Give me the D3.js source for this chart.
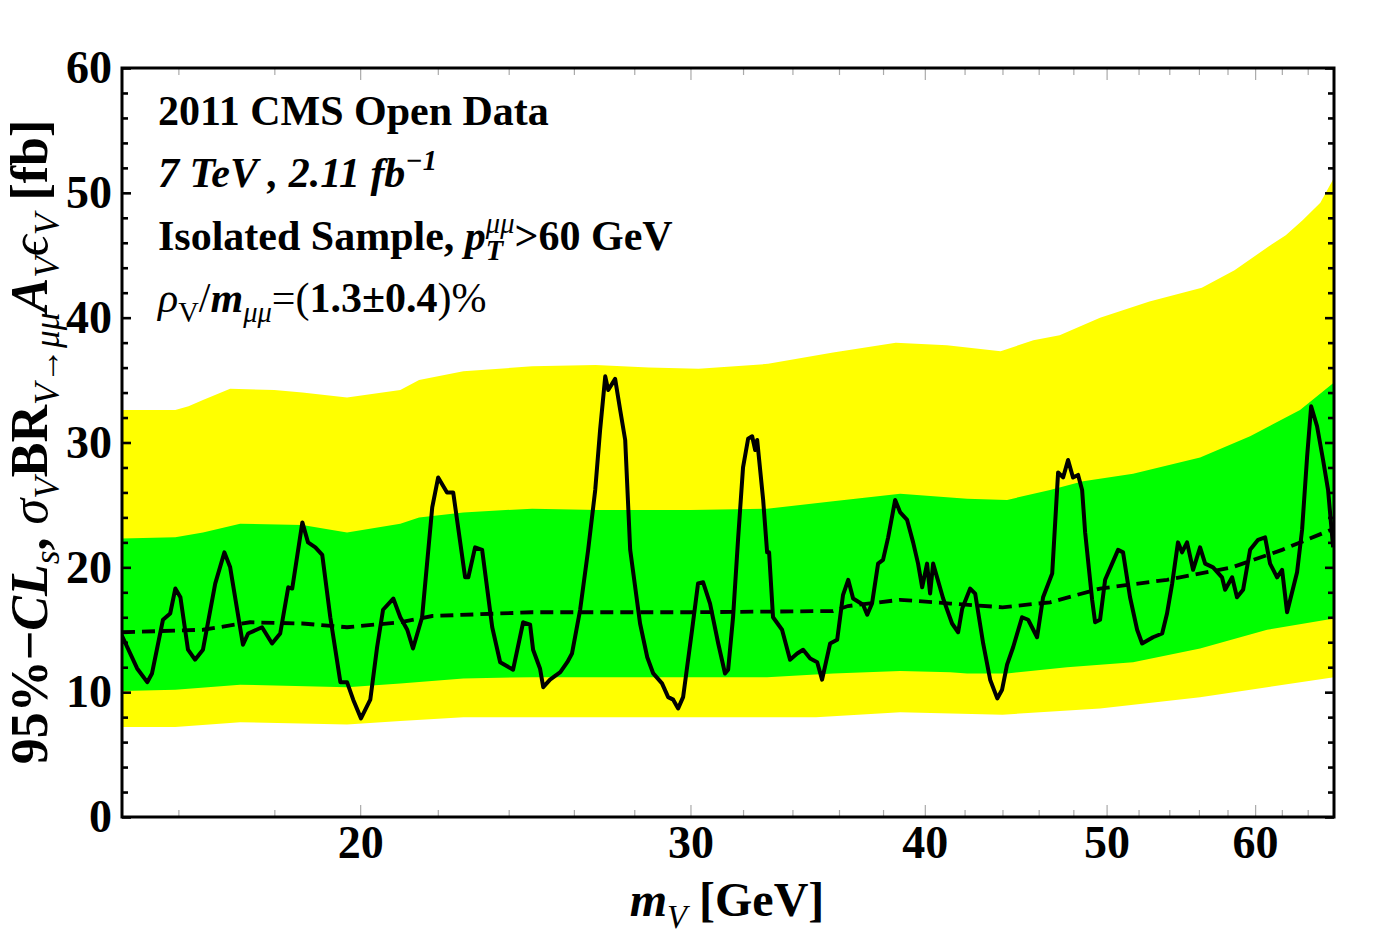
<!DOCTYPE html>
<html>
<head>
<meta charset="utf-8">
<script src="https://cdn.jsdelivr.net/npm/d3@7"></script>
<style>
  body { margin: 0; background: #fff; }
</style>
</head>
<body>
<script>
"use strict";

//////////////////////////
////////// DATA //////////
//////////////////////////

// observed 95% CLs limit (mass in GeV, limit in fb)
var obsMass = [14.90, 15.21, 15.40, 15.49, 15.70, 15.84, 15.94, 16.04, 16.19, 16.33, 16.49, 16.74, 16.93, 17.05,
  17.32, 17.43, 17.73, 17.95, 18.13, 18.31, 18.40, 18.63, 18.76, 18.93, 19.09, 19.28, 19.52, 19.68, 19.83, 20.02,
  20.25, 20.42, 20.57, 20.83, 21.01, 21.19, 21.34, 21.58, 21.85, 22.01, 22.25, 22.42, 22.75, 22.84, 23.03, 23.23,
  23.52, 23.75, 24.13, 24.43, 24.64, 24.73, 24.94, 25.04, 25.25, 25.57, 25.79, 25.94, 26.20, 26.46, 26.69, 26.85,
  27.02, 27.12, 27.35, 27.52, 27.69, 27.86, 28.20, 28.45, 28.66, 28.97, 29.19, 29.37, 29.55, 29.73, 30.06, 30.28,
  30.47, 30.73, 31.04, 31.30, 31.42, 31.61, 31.81, 32.00, 32.20, 32.36, 32.48, 32.56, 32.80, 32.96, 33.04, 33.20,
  33.57, 33.90, 34.20, 34.45, 34.75, 35.05, 35.26, 35.61, 35.92, 36.18, 36.41, 36.63, 37.08, 37.27, 37.49, 37.77,
  38.00, 38.24, 38.57, 38.81, 39.14, 39.43, 39.67, 39.87, 40.11, 40.26, 40.41, 40.91, 41.36, 41.67, 41.88, 42.29,
  42.55, 42.97, 43.34, 43.72, 43.98, 44.25, 44.58, 45.07, 45.41, 45.91, 46.25, 46.77, 47.11, 47.40, 47.69, 47.98,
  48.28, 48.52, 48.70, 49.12, 49.30, 49.60, 49.91, 50.34, 50.71, 51.02, 51.46, 51.91, 52.23, 52.93, 53.53, 53.85,
  54.19, 54.58, 54.85, 55.19, 55.60, 56.08, 56.43, 56.98, 57.61, 57.83, 58.33, 58.68, 59.12, 59.63, 60.22, 60.74,
  61.11, 61.64, 62.02, 62.40, 63.17, 63.56, 63.95, 64.27, 64.74, 65.22, 65.62, 66.03];
var obsLimit = [14.8, 11.9, 10.8, 11.5, 15.8, 16.3, 18.3, 17.6, 13.4, 12.6, 13.4, 18.7, 21.2, 20.0,
  13.8, 14.7, 15.2, 13.9, 14.7, 18.4, 18.3, 23.6, 22.0, 21.6, 21.0, 16.0, 10.8, 10.8, 9.4, 7.9,
  9.4, 13.6, 16.6, 17.5, 16.0, 15.0, 13.5, 16.0, 24.8, 27.2, 26.0, 26.0, 19.2, 19.2, 21.6, 21.4,
  15.2, 12.4, 11.8, 15.6, 15.4, 13.4, 11.9, 10.4, 11.0, 11.6, 12.4, 13.1, 16.6, 21.4, 26.2, 31.0,
  35.3, 34.2, 35.1, 32.6, 30.2, 21.4, 15.5, 12.8, 11.5, 10.7, 9.6, 9.4, 8.7, 9.6, 15.0, 18.7,
  18.8, 17.1, 13.9, 11.5, 11.8, 16.0, 22.4, 28.0, 30.3, 30.5, 29.4, 30.2, 25.4, 21.2, 21.2, 16.0,
  15.0, 12.6, 13.1, 13.4, 12.7, 12.4, 11.0, 13.9, 14.2, 17.8, 19.0, 17.5, 17.0, 16.2, 17.1, 20.3,
  20.6, 22.4, 25.4, 24.4, 23.8, 22.0, 20.3, 18.4, 20.3, 17.9, 20.3, 17.5, 15.5, 14.8, 16.7, 18.3,
  17.9, 13.9, 11.0, 9.5, 10.2, 12.2, 13.6, 16.0, 15.8, 14.4, 17.6, 19.5, 27.6, 27.2, 28.6, 27.2,
  27.4, 26.2, 22.8, 17.4, 15.6, 15.8, 19.0, 20.3, 21.4, 21.2, 17.6, 15.0, 13.9, 14.4, 14.7, 16.3,
  18.7, 22.0, 21.2, 22.0, 19.8, 21.6, 20.3, 20.0, 19.2, 18.2, 19.2, 17.6, 18.2, 21.4, 22.2, 22.4,
  20.3, 19.2, 19.8, 16.4, 19.6, 23.0, 28.8, 32.9, 31.3, 28.6, 26.2, 21.6];

// expected (median) limit
var expMass = [14.93, 16.49, 17.47, 18.63, 19.68, 21.01, 21.85, 24.70, 30.00, 35.74, 36.40, 38.81, 41.27, 44.00,
  46.65, 49.60, 53.85, 58.33, 62.02, 66.10];
var expLimit = [14.8, 15.0, 15.6, 15.5, 15.2, 15.6, 16.1, 16.4, 16.4, 16.5, 16.9, 17.4, 17.1, 16.8,
  17.2, 18.3, 19.0, 20.0, 21.4, 23.1];

// +2 sigma edge
var up2Mass = [14.93, 15.94, 16.20, 16.49, 17.05, 18.00, 18.63, 19.68, 21.01, 21.50, 22.70, 24.70, 26.70, 28.50,
  30.30, 33.00, 35.74, 38.60, 41.10, 43.90, 45.70, 47.20, 49.60, 52.70, 54.90, 56.20, 58.50, 61.00, 62.30,
  63.60, 65.00, 66.10];
var up2Limit = [32.6, 32.6, 32.9, 33.4, 34.3, 34.2, 34.0, 33.6, 34.2, 35.0, 35.7, 36.1, 36.2, 36.0,
  35.9, 36.3, 37.2, 38.0, 37.8, 37.3, 38.2, 38.6, 40.0, 41.3, 42.0, 42.4, 43.8, 45.7, 46.6,
  47.8, 49.2, 51.2];

// +1 sigma edge
var up1Mass = [14.93, 15.94, 16.49, 17.26, 18.63, 19.68, 21.01, 21.50, 22.70, 24.70, 26.80, 30.00, 32.96, 35.74,
  38.81, 41.27, 42.13, 44.25, 46.65, 48.58, 51.65, 56.08, 59.63, 63.40, 66.10];
var up1Limit = [22.3, 22.4, 22.8, 23.5, 23.4, 22.8, 23.5, 24.0, 24.4, 24.7, 24.6, 24.6, 24.7, 25.3,
  25.9, 25.6, 25.5, 25.4, 26.2, 26.9, 27.5, 28.8, 30.5, 32.6, 34.8];

// -1 sigma edge
var dn1Mass = [14.93, 15.94, 17.26, 19.68, 21.01, 22.70, 24.70, 27.00, 30.00, 32.96, 35.74, 38.81, 41.27, 42.13,
  44.25, 47.63, 51.65, 56.08, 60.89, 66.10];
var dn1Limit = [10.1, 10.2, 10.6, 10.4, 10.7, 11.1, 11.2, 11.2, 11.2, 11.2, 11.5, 11.7, 11.6, 11.5,
  11.5, 12.0, 12.4, 13.5, 15.0, 15.9];

// -2 sigma edge
var dn2Mass = [14.93, 15.94, 17.26, 19.68, 21.01, 22.70, 24.70, 30.00, 35.00, 38.81, 44.00, 49.60, 56.08, 60.89, 66.10];
var dn2Limit = [7.2, 7.2, 7.6, 7.4, 7.7, 8.0, 8.0, 8.0, 8.0, 8.4, 8.2, 8.7, 9.6, 10.4, 11.2];

var xMajorTicks = [20, 30, 40, 50, 60];
var xMinorTicks = [16, 18, 22, 24, 26, 28, 32, 34, 36, 38, 42, 44, 46, 48, 52, 54, 56, 58, 62, 64];
var yMajorTicks = [0, 10, 20, 30, 40, 50, 60];
var yMinorTicks = [2, 4, 6, 8, 12, 14, 16, 18, 22, 24, 26, 28, 32, 34, 36, 38, 42, 44, 46, 48, 52, 54, 56, 58];

//////////////////////////
///////// LAYOUT /////////
//////////////////////////

var width = 1396;
var height = 938;
var plotLeft = 122, plotRight = 1334, plotTop = 68, plotBottom = 817;
var serif = "'Liberation Serif', 'Times New Roman', serif";
var yellow = "#ffff00";
var green = "#00ff00";

var svg = d3.select("body").append("svg")
  .attr("width", width)
  .attr("height", height);

var x = d3.scaleLog().domain([14.93, 66.1]).range([plotLeft, plotRight]);
var y = d3.scaleLinear().domain([0, 60]).range([plotBottom, plotTop]);

svg.append("clipPath").attr("id", "plotClip")
  .append("rect")
  .attr("x", plotLeft).attr("y", plotTop)
  .attr("width", plotRight - plotLeft).attr("height", plotBottom - plotTop);

var plot = svg.append("g").attr("clip-path", "url(#plotClip)");

function zipPts(ms, vs) {
  return ms.map(function(m, i) { return [m, vs[i]]; });
}

var line = d3.line()
  .x(function(d) { return x(d[0]); })
  .y(function(d) { return y(d[1]); });

// band polygon: upper edge forward, lower edge back
function bandPath(upM, upV, dnM, dnV) {
  var pts = zipPts(upM, upV).concat(zipPts(dnM, dnV).reverse());
  return line(pts) + "Z";
}

plot.append("path")
  .attr("d", bandPath(up2Mass, up2Limit, dn2Mass, dn2Limit))
  .attr("fill", yellow);

plot.append("path")
  .attr("d", bandPath(up1Mass, up1Limit, dn1Mass, dn1Limit))
  .attr("fill", green);

plot.append("path")
  .attr("d", line(zipPts(expMass, expLimit)))
  .attr("fill", "none")
  .attr("stroke", "#000")
  .attr("stroke-width", 3.8)
  .attr("stroke-dasharray", "13,7");

plot.append("path")
  .attr("d", line(zipPts(obsMass, obsLimit)))
  .attr("fill", "none")
  .attr("stroke", "#000")
  .attr("stroke-width", 4)
  .attr("stroke-linejoin", "round");

//////////////////////////
////////// AXES //////////
//////////////////////////

function styleTicks(g, color, w) {
  g.select(".domain").remove();
  g.selectAll(".tick line").attr("stroke", color).attr("stroke-width", w);
  g.selectAll(".tick text")
    .attr("font-family", serif)
    .attr("font-weight", "bold")
    .attr("font-size", 46)
    .attr("fill", "#000");
}

// bottom
svg.append("g").attr("transform", "translate(0," + plotBottom + ")")
  .call(d3.axisBottom(x).tickValues(xMajorTicks).tickFormat(d3.format("d"))
    .tickSizeInner(-12).tickSizeOuter(0).tickPadding(8))
  .call(styleTicks, "#aaa", 1.2);
svg.append("g").attr("transform", "translate(0," + plotBottom + ")")
  .call(d3.axisBottom(x).tickValues(xMinorTicks).tickFormat("").tickSizeInner(-7).tickSizeOuter(0))
  .call(styleTicks, "#aaa", 1.2);
// top
svg.append("g").attr("transform", "translate(0," + plotTop + ")")
  .call(d3.axisTop(x).tickValues(xMajorTicks).tickFormat("").tickSizeInner(-12).tickSizeOuter(0))
  .call(styleTicks, "#aaa", 1.2);
svg.append("g").attr("transform", "translate(0," + plotTop + ")")
  .call(d3.axisTop(x).tickValues(xMinorTicks).tickFormat("").tickSizeInner(-7).tickSizeOuter(0))
  .call(styleTicks, "#aaa", 1.2);
// left
svg.append("g").attr("transform", "translate(" + plotLeft + ",0)")
  .call(d3.axisLeft(y).tickValues(yMajorTicks).tickFormat(d3.format("d"))
    .tickSizeInner(-9).tickSizeOuter(0).tickPadding(10))
  .call(styleTicks, "#000", 2.6);
svg.append("g").attr("transform", "translate(" + plotLeft + ",0)")
  .call(d3.axisLeft(y).tickValues(yMinorTicks).tickFormat("").tickSizeInner(-6).tickSizeOuter(0))
  .call(styleTicks, "#000", 2.6);
// right
svg.append("g").attr("transform", "translate(" + plotRight + ",0)")
  .call(d3.axisRight(y).tickValues(yMajorTicks).tickFormat("").tickSizeInner(-9).tickSizeOuter(0))
  .call(styleTicks, "#000", 2.6);
svg.append("g").attr("transform", "translate(" + plotRight + ",0)")
  .call(d3.axisRight(y).tickValues(yMinorTicks).tickFormat("").tickSizeInner(-6).tickSizeOuter(0))
  .call(styleTicks, "#000", 2.6);

// frame
svg.append("rect")
  .attr("x", plotLeft).attr("y", plotTop)
  .attr("width", plotRight - plotLeft).attr("height", plotBottom - plotTop)
  .attr("fill", "none")
  .attr("stroke", "#000")
  .attr("stroke-width", 3);

//////////////////////////
////////// TEXT //////////
//////////////////////////

// parts: {t, b (bold), i (italic), sub, sup, back (overlay on previous script)}
function richText(sel, px, py, size, parts, anchor) {
  var t = sel.append("text")
    .attr("x", px).attr("y", py)
    .attr("font-family", serif)
    .attr("font-size", size)
    .attr("fill", "#000")
    .attr("text-anchor", anchor || "start");
  var shift = 0;
  var prev = null;
  parts.forEach(function(p) {
    var s = p.sub ? size * 0.24 : (p.sup ? -size * 0.4 : 0);
    var fs = (p.sub || p.sup) ? size * (p.sc || 0.68) : size;
    var ts = t.append("tspan")
      .attr("dy", s - shift)
      .attr("font-size", fs)
      .attr("font-weight", p.b ? "bold" : "normal")
      .attr("font-style", p.i ? "italic" : "normal")
      .text(p.t);
    if (p.back && prev) {
      ts.attr("dx", -prev.node().getComputedTextLength());
    }
    shift = s;
    prev = ts;
  });
  return t;
}

var ann = svg.append("g");
richText(ann, 158, 125, 42, [{t: "2011 CMS Open Data", b: true}]);
richText(ann, 158, 187, 42, [
  {t: "7 TeV , 2.11  fb", b: true, i: true},
  {t: "\u22121", b: true, i: true, sup: true}
]);
richText(ann, 158, 250, 42, [
  {t: "Isolated Sample, ", b: true},
  {t: "p", b: true, i: true},
  {t: "T", b: true, i: true, sub: true},
  {t: "\u03bc\u03bc", i: true, sup: true, back: true},
  {t: ">60 GeV", b: true}
]);
richText(ann, 158, 312, 42, [
  {t: "\u03c1", i: true},
  {t: "V", sub: true},
  {t: "/"},
  {t: "m", b: true, i: true},
  {t: "\u03bc\u03bc", i: true, sub: true},
  {t: "=("},
  {t: "1.3\u00b10.4", b: true},
  {t: ")%"}
]);

// x axis title
richText(svg, 727, 916, 48, [
  {t: "m", b: true, i: true},
  {t: "V", i: true, sub: true},
  {t: " [GeV]", b: true}
], "middle");

// y axis title
var yTitle = svg.append("g").attr("transform", "translate(47,442) rotate(-90)");
richText(yTitle, 0, 0, 52, [
  {t: "95%", b: true},
  {t: "\u2212", b: true},
  {t: "CL", b: true, i: true},
  {t: "s", i: true, sub: true},
  {t: ", ", b: true},
  {t: "\u03c3", i: true},
  {t: "V", i: true, sub: true},
  {t: "BR", b: true},
  {t: "V\u2192\u03bc\u03bc", i: true, sub: true},
  {t: "A", b: true, i: true},
  {t: "V", i: true, sub: true},
  {t: "\u03f5", i: true},
  {t: "V", i: true, sub: true},
  {t: " [fb]", b: true}
], "middle");
</script>
</body>
</html>
